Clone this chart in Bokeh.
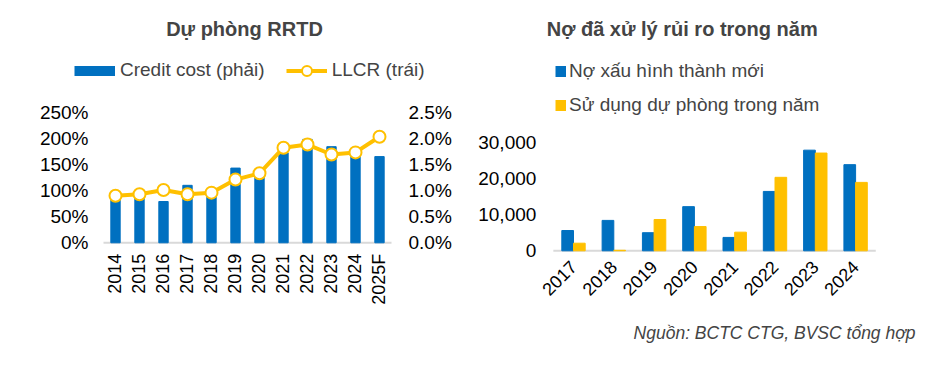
import math
import numpy as np
from bokeh.plotting import figure
from bokeh.models import (Range1d, LinearAxis, PrintfTickFormatter, NumeralTickFormatter,
                          Legend, LegendItem, Label, ColumnDataSource, FixedTicker)
from bokeh.transform import dodge
from bokeh.layouts import row
from bokeh.embed import file_html
from bokeh.resources import INLINE

# ---- data: left chart ----
years_l = ["2014", "2015", "2016", "2017", "2018", "2019", "2020", "2021", "2022", "2023", "2024", "2025F"]
credit_cost = [0.88, 0.90, 0.79, 1.10, 0.92, 1.43, 1.30, 1.72, 1.98, 1.84, 1.72, 1.65]   # % (right axis)
llcr = [90, 93, 101, 93, 96, 121, 133, 182, 188, 169, 173, 203]                          # % (left axis)
ticks_llcr = [0, 50, 100, 150, 200, 250]
ticks_cc = [0, 0.5, 1.0, 1.5, 2.0, 2.5]

# ---- data: right chart ----
years_r = ["2017", "2018", "2019", "2020", "2021", "2022", "2023", "2024"]
npl_new = [5600, 8400, 5000, 12200, 3700, 16400, 27800, 23800]
prov_used = [2100, 150, 8650, 6700, 5150, 20300, 27000, 18900]
ticks_r = [0, 10000, 20000, 30000]

BLUE = "#0070C0"
YELLOW = "#FFC000"
GRAY = "#D9D9D9"
FONT = "Liberation Sans"
TICK = "19px"
TICK_ROT = "18px"
LEG = "19px"
NAN = np.array([np.nan])   # legend-key-only renderers draw nothing on the plot


def style_axis(ax, size, standoff):
    ax.axis_line_color = None
    ax.major_tick_line_color = None
    ax.minor_tick_line_color = None
    ax.major_tick_out = 0
    ax.major_tick_in = 0
    ax.minor_tick_out = 0
    ax.major_label_text_font = FONT
    ax.major_label_text_font_size = size
    ax.major_label_text_color = "black"
    ax.major_label_standoff = standoff


# ---------------- left figure ----------------
xl = list(range(len(years_l)))
srcl = ColumnDataSource(dict(x=xl, year=years_l, cc=credit_cost, llcr=llcr))
p1 = figure(width=470, height=350, x_range=Range1d(-4.7917, 14.7917), y_range=Range1d(-206.2, 463.8),
            output_backend="svg", toolbar_location=None, min_border=0)
p1.outline_line_color = None
p1.grid.visible = False
p1.extra_y_ranges = {"cc": Range1d(-2.062, 4.638)}

p1.segment(x0=[xl[0] - 0.5], x1=[xl[-1] + 0.5], y0=[0], y1=[0], line_color=GRAY, line_width=2)
p1.vbar(x="x", top="cc", width=0.39, color=BLUE, y_range_name="cc", source=srcl)
ln = p1.line(x="x", y="llcr", line_color=YELLOW, line_width=4, source=srcl)
mk = p1.scatter(x="x", y="llcr", size=12, fill_color="white", line_color=YELLOW, line_width=2, source=srcl)
bar_key = p1.line(x=NAN, y=NAN, line_color=BLUE, line_width=10, line_cap="butt")

ax_l = p1.yaxis[0]
ax_l.fixed_location = xl[0] - 0.5
ax_l.ticker = FixedTicker(ticks=ticks_llcr)
ax_l.formatter = PrintfTickFormatter(format="%d%%")
style_axis(ax_l, TICK, 15)

ax_r = LinearAxis(y_range_name="cc", fixed_location=xl[-1] + 0.5,
                  ticker=FixedTicker(ticks=ticks_cc), formatter=PrintfTickFormatter(format="%.1f%%"))
p1.add_layout(ax_r, "right")
style_axis(ax_r, TICK, 17)

ax_x1 = p1.xaxis[0]
ax_x1.fixed_location = 0
ax_x1.ticker = FixedTicker(ticks=xl)
ax_x1.major_label_overrides = {i: y for i, y in zip(xl, years_l)}
ax_x1.major_label_orientation = math.pi / 2
style_axis(ax_x1, TICK_ROT, 11)

leg1 = Legend(items=[LegendItem(label="Credit cost (phải)", renderers=[bar_key]),
                     LegendItem(label="LLCR (trái)", renderers=[ln, mk])],
              location=(74, 267.5), orientation="horizontal", glyph_width=41, glyph_height=25,
              label_height=25, label_text_font=FONT, label_text_font_size=LEG, label_standoff=5,
              spacing=21, padding=0, margin=0, border_line_color=None, background_fill_alpha=0)
p1.add_layout(leg1, "center")
p1.add_layout(Label(x=244, y=322, x_units="screen", y_units="screen", text="Dự phòng RRTD",
                    text_font=FONT, text_font_size="20px", text_font_style="bold",
                    text_align="center", text_baseline="middle"))

# ---------------- right figure ----------------
xr = list(range(len(years_r)))
srcr = ColumnDataSource(dict(x=xr, year=years_r, npl=npl_new, used=prov_used))
p2 = figure(width=457, height=350, x_range=Range1d(-2.5558, 8.784), y_range=Range1d(-27541, 69144),
            output_backend="svg", toolbar_location=None, min_border=0)
p2.outline_line_color = None
p2.grid.visible = False

p2.segment(x0=[xr[0] - 0.5], x1=[xr[-1] + 0.5], y0=[0], y1=[0], line_color=GRAY, line_width=2)
p2.vbar(x=dodge("x", -0.145), top="npl", width=0.29, color=BLUE, source=srcr)
p2.vbar(x=dodge("x", 0.145), top="used", width=0.29, color=YELLOW, source=srcr)
key_b = p2.line(x=NAN, y=NAN, line_color=BLUE, line_width=11, line_cap="butt")
key_y = p2.line(x=NAN, y=NAN, line_color=YELLOW, line_width=11, line_cap="butt")

ax_y2 = p2.yaxis[0]
ax_y2.fixed_location = xr[0] - 0.5
ax_y2.ticker = FixedTicker(ticks=ticks_r)
ax_y2.formatter = NumeralTickFormatter(format="0,0")
style_axis(ax_y2, TICK, 17)

ax_x2 = p2.xaxis[0]
ax_x2.fixed_location = 0
ax_x2.ticker = FixedTicker(ticks=xr)
ax_x2.major_label_overrides = {i: y for i, y in zip(xr, years_r)}
ax_x2.major_label_orientation = math.pi / 4
style_axis(ax_x2, TICK_ROT, 13)

for lab, key, vy in [("Nợ xấu hình thành mới", key_b, 268), ("Sử dụng dự phòng trong năm", key_y, 234)]:
    lg = Legend(items=[LegendItem(label=lab, renderers=[key])], location=(85, vy),
                glyph_width=11, glyph_height=22, label_height=22,
                label_text_font=FONT, label_text_font_size=LEG, label_standoff=3,
                padding=0, margin=0, border_line_color=None, background_fill_alpha=0)
    p2.add_layout(lg, "center")

p2.add_layout(Label(x=211.7, y=322, x_units="screen", y_units="screen", text="Nợ đã xử lý rủi ro trong năm",
                    text_font=FONT, text_font_size="20px", text_font_style="bold",
                    text_align="center", text_baseline="middle"))
p2.add_layout(Label(x=445, y=18, x_units="screen", y_units="screen", text="Nguồn: BCTC CTG, BVSC tổng hợp",
                    text_font=FONT, text_font_size="17.5px", text_font_style="italic",
                    text_align="right", text_baseline="middle"))

layout = row(p1, p2, spacing=0)
open("out.html", "w").write(file_html(layout, INLINE))
